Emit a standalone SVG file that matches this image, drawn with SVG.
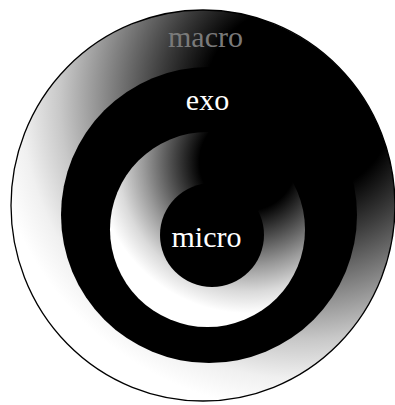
<svg xmlns="http://www.w3.org/2000/svg" width="395" height="405" viewBox="0 0 395 405">
  <defs>
    <radialGradient id="gOuter" gradientUnits="userSpaceOnUse" cx="300" cy="100" r="320">
      <stop offset="0" stop-color="#000000"/>
      <stop offset="0.3" stop-color="#000000"/>
      <stop offset="0.44" stop-color="#3c3c3c"/>
      <stop offset="0.62" stop-color="#8e8e8e"/>
      <stop offset="0.75" stop-color="#c8c8c8"/>
      <stop offset="0.87" stop-color="#f0f0f0"/>
      <stop offset="0.97" stop-color="#ffffff"/>
    </radialGradient>
    <radialGradient id="gInner" gradientUnits="userSpaceOnUse" cx="248" cy="162" r="180">
      <stop offset="0" stop-color="#000000"/>
      <stop offset="0.27" stop-color="#000000"/>
      <stop offset="0.42" stop-color="#4a4a4a"/>
      <stop offset="0.58" stop-color="#9a9a9a"/>
      <stop offset="0.72" stop-color="#dadada"/>
      <stop offset="0.84" stop-color="#ffffff"/>
    </radialGradient>
  </defs>
  <style>
    .lbl { font-family: "Liberation Serif", "Times New Roman", serif; font-size: 30px; text-anchor: middle; }
  </style>
  <rect x="0" y="0" width="395" height="405" fill="#ffffff"/>
  <g id="macro">
    <ellipse cx="203" cy="205.5" rx="192" ry="195.5" fill="url(#gOuter)" stroke="#000" stroke-width="1.3"/>
    <text class="lbl" x="205.5" y="47" fill="#7a7a7a">macro</text>
  </g>
  <g id="exo">
    <circle cx="209" cy="215" r="148" fill="#000"/>
    <text class="lbl" x="207.5" y="110" fill="#ffffff">exo</text>
  </g>
  <g id="meso">
    <circle cx="207.5" cy="229.5" r="97.5" fill="url(#gInner)"/>
  </g>
  <g id="micro">
    <circle cx="212" cy="235" r="52" fill="#000"/>
    <text class="lbl" x="206.5" y="247" fill="#ffffff">micro</text>
  </g>
</svg>
